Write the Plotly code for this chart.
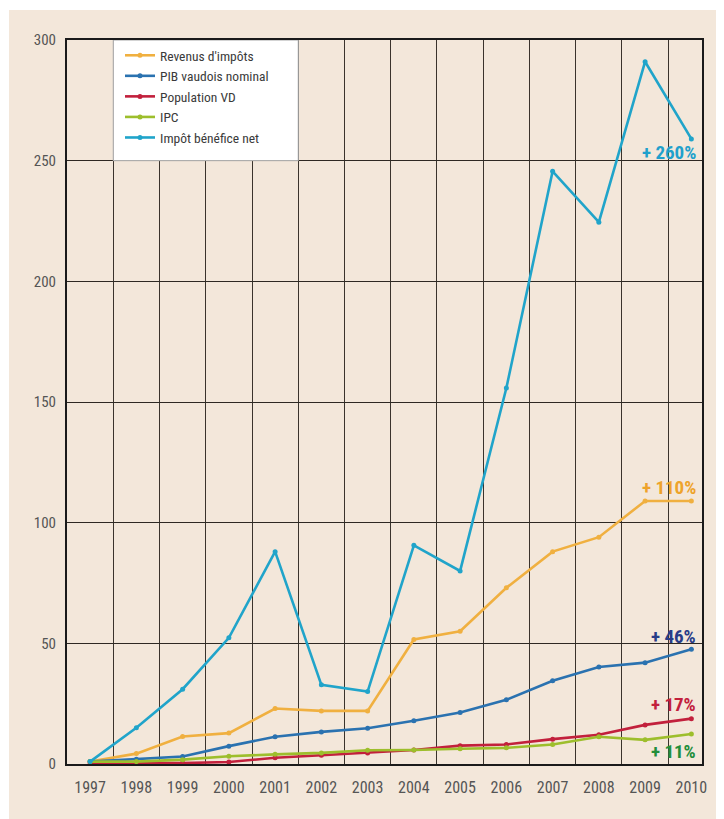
import plotly.graph_objects as go

years = list(range(1997, 2011))
revenus = [1, 4.3, 11.4, 12.8, 23, 22, 22, 51.6, 55, 73, 88, 94, 109, 109]
pib = [1, 2, 3.1, 7.4, 11.3, 13.3, 14.8, 17.9, 21.3, 26.6, 34.5, 40.2, 42, 47.5]
population = [0.5, 0.3, 0.4, 0.8, 2.6, 3.6, 4.6, 5.8, 7.6, 8.1, 10.3, 12.1, 16.2, 18.8]
ipc = [1, 1, 1.8, 3.2, 4, 4.6, 5.7, 5.8, 6.3, 6.7, 8.1, 11.3, 10, 12.4]
impot_benefice = [1, 15, 31, 52.3, 88, 32.8, 30, 90.6, 80, 155.8, 245.6, 224.5, 291, 259]

series_names = ["Revenus d'impôts", "PIB vaudois nominal", "Population VD", "IPC", "Impôt bénéfice net"]
series_values = [revenus, pib, population, ipc, impot_benefice]
series_colors = ["#F0B040", "#2A72B0", "#C2203C", "#9DBE2C", "#20A4CA"]

growth_labels = ["+ 110%", "+ 46%", "+ 17%", "+ 11%", "+ 260%"]
growth_colors = ["#EEA32A", "#283C88", "#C2203C", "#238E3A", "#20A0CC"]
growth_ypos = [114.5, 52.8, 24.5, 5.2, 253.5]

y_ticks = [0, 50, 100, 150, 200, 250, 300]

FONT = "Liberation Sans Narrow, Roboto Condensed, Arial Narrow, Roboto, sans-serif"

fig = go.Figure()
for name, vals, col in zip(series_names, series_values, series_colors):
    fig.add_trace(go.Scatter(
        x=years, y=vals, name=name, mode="lines+markers",
        line=dict(color=col, width=2.6),
        marker=dict(color=col, size=5),
    ))

# page body has an 8px offset; work in page pixel coordinates
OFF = 8
W, H = 724 - OFF, 819 - OFF
L, R, T, B = 67 - OFF, 22, 40 - OFF, 55
pw, ph = W - L - R, H - T - B


def px_x(px):
    return (px - OFF - L) / pw


def px_y(py):
    return (H - B - (py - OFF)) / ph


shapes = [
    # beige panel
    dict(type="rect", xref="paper", yref="paper",
         x0=px_x(9), x1=1.2, y0=-0.2, y1=px_y(10),
         fillcolor="#F3E7DA", line=dict(width=0), layer="below"),
    # white legend box
    dict(type="rect", xref="x", yref="y", x0=1997.5, x1=2001.5, y0=250, y1=300,
         fillcolor="white", line=dict(color="#A8A8A8", width=1), layer="between"),
]

annotations = []
for txt, col, yv in zip(growth_labels, growth_colors, growth_ypos):
    annotations.append(dict(
        x=px_x(698), xref="paper", xanchor="right",
        y=yv, yref="y", yanchor="middle",
        text="<b>%s</b>" % txt, showarrow=False,
        font=dict(family=FONT, size=19, color=col),
    ))

fig.update_layout(
    width=W, height=H,
    margin=dict(l=L, r=R, t=T, b=B),
    paper_bgcolor="white",
    plot_bgcolor="rgba(0,0,0,0)",
    font=dict(family=FONT, size=15, color="#555555"),
    shapes=shapes,
    annotations=annotations,
    showlegend=True,
    legend=dict(
        x=px_x(120), xanchor="left", y=px_y(40), yanchor="top",
        bgcolor="rgba(0,0,0,0)", borderwidth=0,
        font=dict(family=FONT, size=13.5, color="#3A3A3A"),
        tracegroupgap=0, itemwidth=30,
    ),
    xaxis=dict(
        range=[1996.5, 2010.23],
        tickmode="array", tickvals=years, ticktext=[str(y) for y in years],
        showgrid=False, zeroline=False, ticks="",
        ticklabelstandoff=8,
        showline=True, linecolor="#1A1A1A", linewidth=2, mirror=True,
        minor=dict(tickmode="array", tickvals=[y + 0.5 for y in years[:-1]],
                   showgrid=True, gridcolor="#3A332C", gridwidth=1.4, ticks=""),
        tickfont=dict(family=FONT, size=16, color="#555555"),
    ),
    yaxis=dict(
        range=[0, 300],
        tickmode="array", tickvals=y_ticks,
        showgrid=True, gridcolor="#2E2822", gridwidth=1.4,
        zeroline=False, ticks="",
        ticklabelstandoff=6,
        showline=True, linecolor="#1A1A1A", linewidth=2, mirror=True,
        tickfont=dict(family=FONT, size=15, color="#555555"),
    ),
)

fig.write_html("out.html")
